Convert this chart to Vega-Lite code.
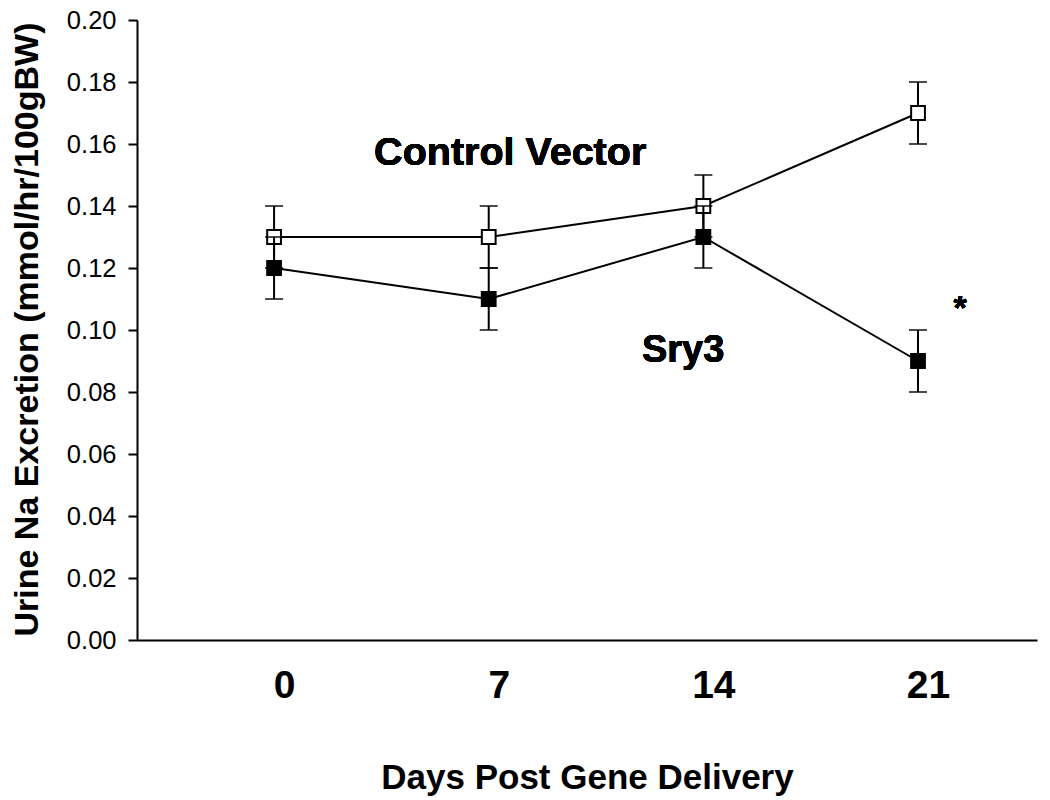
{
  "$schema": "https://vega.github.io/schema/vega-lite/v6.json",
  "autosize": "none",
  "width": 900,
  "height": 620,
  "padding": {"left": 137, "top": 20, "right": 13, "bottom": 160},
  "background": "white",
  "config": {
    "view": {"stroke": null},
    "font": "Liberation Sans",
    "axis": {"grid": false, "domainColor": "black", "domainWidth": 2, "tickColor": "black", "tickWidth": 2, "labelColor": "black", "titleColor": "black", "labelFont": "Liberation Sans", "titleFont": "Liberation Sans"}
  },
  "data": {"values": [
    {"day": 0, "group": "Control Vector", "mean": 0.13, "lo": 0.12, "hi": 0.14},
    {"day": 7, "group": "Control Vector", "mean": 0.13, "lo": 0.12, "hi": 0.14},
    {"day": 14, "group": "Control Vector", "mean": 0.14, "lo": 0.13, "hi": 0.15},
    {"day": 21, "group": "Control Vector", "mean": 0.17, "lo": 0.16, "hi": 0.18},
    {"day": 0, "group": "Sry3", "mean": 0.12, "lo": 0.11, "hi": 0.13},
    {"day": 7, "group": "Sry3", "mean": 0.11, "lo": 0.10, "hi": 0.12},
    {"day": 14, "group": "Sry3", "mean": 0.13, "lo": 0.12, "hi": 0.14},
    {"day": 21, "group": "Sry3", "mean": 0.09, "lo": 0.08, "hi": 0.10}
  ]},
  "encoding": {
    "x": {"field": "day", "type": "quantitative",
      "scale": {"domain": [-4.47, 24.88], "nice": false, "zero": false},
      "axis": {"title": "Days Post Gene Delivery", "values": [0, 7, 14, 21], "ticks": false, "tickSize": 0,
        "labelFontSize": 39, "labelFontWeight": "bold", "labelBaseline": "alphabetic", "labelPadding": 57, "labelOffset": 10,
        "titleFontSize": 35, "titleFontWeight": "bold", "titleBaseline": "alphabetic", "titleY": 148, "titleX": 450}},
    "y": {"field": "mean", "type": "quantitative",
      "scale": {"domain": [0, 0.2], "nice": false},
      "axis": {"title": "Urine Na Excretion (mmol/hr/100gBW)", "values": [0, 0.02, 0.04, 0.06, 0.08, 0.1, 0.12, 0.14, 0.16, 0.18, 0.2], "format": ".2f",
        "tickSize": 9, "labelFontSize": 25.5, "labelPadding": 12,
        "titleFontSize": 34, "titleFontWeight": "bold", "titleAngle": -90, "titleBaseline": "middle", "titleX": -110, "titleY": 309}}
  },
  "layer": [
    {
      "transform": [{"filter": "datum.group === 'Control Vector'"}],
      "layer": [
        {"mark": {"type": "rule", "color": "black", "strokeWidth": 2}, "encoding": {"y": {"field": "lo", "type": "quantitative"}, "y2": {"field": "hi"}}},
        {"mark": {"type": "tick", "orient": "horizontal", "color": "black", "size": 18, "thickness": 2}, "encoding": {"y": {"field": "lo", "type": "quantitative"}}},
        {"mark": {"type": "tick", "orient": "horizontal", "color": "black", "size": 18, "thickness": 2}, "encoding": {"y": {"field": "hi", "type": "quantitative"}}},
        {"mark": {"type": "line", "color": "black", "strokeWidth": 2}, "encoding": {}},
        {"mark": {"type": "point", "shape": "square", "filled": true, "fill": "white", "stroke": "black", "strokeWidth": 2, "size": 190, "opacity": 1}, "encoding": {}}
      ]
    },
    {
      "transform": [{"filter": "datum.group === 'Sry3'"}],
      "layer": [
        {"mark": {"type": "rule", "color": "black", "strokeWidth": 2}, "encoding": {"y": {"field": "lo", "type": "quantitative"}, "y2": {"field": "hi"}}},
        {"mark": {"type": "tick", "orient": "horizontal", "color": "black", "size": 18, "thickness": 2}, "encoding": {"y": {"field": "lo", "type": "quantitative"}}},
        {"mark": {"type": "tick", "orient": "horizontal", "color": "black", "size": 18, "thickness": 2}, "encoding": {"y": {"field": "hi", "type": "quantitative"}}},
        {"mark": {"type": "line", "color": "black", "strokeWidth": 2}, "encoding": {}},
        {"mark": {"type": "point", "shape": "square", "filled": true, "fill": "black", "stroke": "black", "strokeWidth": 2, "size": 190, "opacity": 1}, "encoding": {}}
      ]
    },
    {
      "mark": {"type": "text", "text": "Control Vector", "fontSize": 39.5, "fontWeight": "bold", "fill": "black", "align": "center", "baseline": "alphabetic"},
      "encoding": {"x": {"datum": 7.7}, "y": {"datum": 0.1532}}
    },
    {
      "mark": {"type": "text", "text": "Sry3", "fontSize": 38, "fontWeight": "bold", "fill": "black", "align": "center", "baseline": "alphabetic"},
      "encoding": {"x": {"datum": 13.34}, "y": {"datum": 0.0897}}
    },
    {
      "mark": {"type": "text", "text": "*", "fontSize": 34, "fontWeight": "bold", "fill": "black", "align": "center", "baseline": "alphabetic"},
      "encoding": {"x": {"datum": 22.37}, "y": {"datum": 0.1036}}
    }
  ]
}
